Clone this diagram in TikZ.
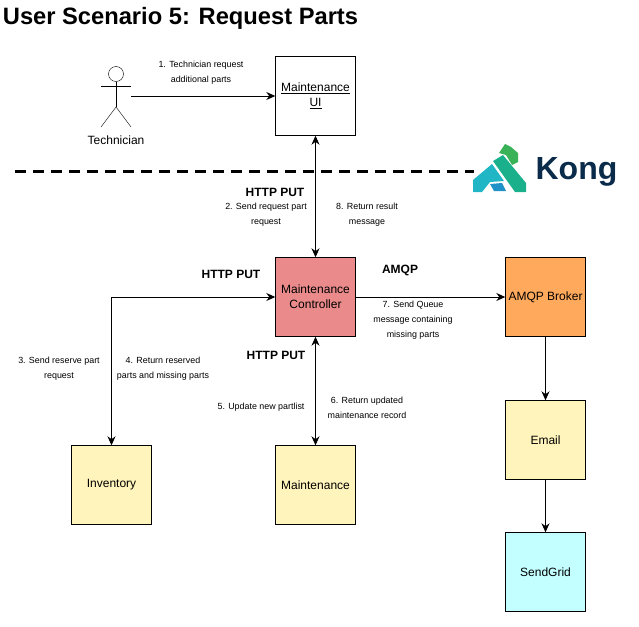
\documentclass[tikz,border=0pt]{standalone}
\usepackage{fontspec}
\setmainfont{Liberation Sans}
\usetikzlibrary{arrows.meta}

\begin{document}
\begin{tikzpicture}
[x=1pt,y=-1pt,
  boxDecorate/.style={shape=rectangle,draw,minimum width=80pt,minimum height=79pt,inner sep=1pt,align=center,font=\fontsize{12}{15}\selectfont},%
  lineDecorate/.style={-{Stealth[length=9pt,width=8pt]},line width=1pt},%
  bothDecorate/.style={{Stealth[length=9pt,width=8pt]}-{Stealth[length=9pt,width=8pt]},line width=1pt},%
  noteDecorate/.style={align=center,font=\fontsize{8.9}{15}\selectfont},%
  protoDecorate/.style={font=\fontsize{12}{14}\selectfont\bfseries}]
\useasboundingbox (0,0) rectangle (639,626);
\definecolor{redBox}{HTML}{EA8A8A}
\definecolor{orangeBox}{HTML}{FFA95C}
\definecolor{yellowBox}{HTML}{FFF4BB}
\definecolor{cyanBox}{HTML}{C4FFFF}
\definecolor{kongNavy}{HTML}{0B2B4A}
%% title
\node (title) at (180.5,18) {\fontsize{23.7}{28}\selectfont\bfseries User Scenario 5: Request Parts};
%% nodes or vertices
\foreach \nodename/\x/\y/\fillcolor/\nodetext in {
  ui/315.5/96/white/{\underline{Maintenance}\\\underline{UI}},
  controller/315.5/297/redBox/{Maintenance\\Controller},
  broker/545.5/297/orangeBox/{AMQP Broker},
  email/545.5/440/yellowBox/{Email},
  sendgrid/545.5/572/cyanBox/{SendGrid},
  inventory/111.5/485/yellowBox/{Inventory},
  maintenance/315.5/485/yellowBox/{Maintenance}}
{
  \node (\nodename) at (\x,\y) [boxDecorate,fill=\fillcolor] {\nodetext};
}
%% actor
\node (head) at (116,74) [shape=circle,draw,minimum size=15pt,inner sep=0pt] {};
\coordinate (hip) at (116,107);
\coordinate (actor) at (131,96);
\draw (head) -- (hip);
\draw (101,86) -- (131,86);
\draw (101,127) -- (hip) -- (131,127);
\node (technician) at (116,140) {\fontsize{12}{14}\selectfont Technician};
%% kong logo
\fill[fill={rgb,255:red,58;green,178;blue,88}] (499,153) -- (505,144) -- (511,147) -- (518,153) -- (518,162) -- (512,165) -- (506,155) -- cycle;
\fill[fill={rgb,255:red,27;green,176;blue,140}] (493,161) -- (503,155) -- (526,183) -- (526,192) -- (515,192) -- cycle;
\fill[fill={rgb,255:red,33;green,182;blue,198}] (473,180) -- (492,164) -- (504,181) -- (490,182) -- (482,192) -- (473,192) -- cycle;
\fill[fill={rgb,255:red,32;green,146;blue,200}] (490,184) -- (502,183) -- (506,191) -- (494,191) -- cycle;
\node (kong) at (576.5,172) [text=kongNavy] {\fontsize{32}{34}\selectfont\bfseries Kong};
%% edges or lines
\coordinate (dashStart) at (15,171);
\coordinate (dashEnd) at (474,171);
\draw[line width=3pt,dash pattern=on 11pt off 7pt] (dashStart) -- (dashEnd);
\draw[lineDecorate] (actor) -- (ui);
\foreach \startnode/\endnode in {ui/controller, controller/maintenance}
{
  \draw[bothDecorate] (\startnode) -- (\endnode);
}
\draw[bothDecorate] (controller) -| (inventory);
\foreach \startnode/\endnode in {controller/broker, broker/email, email/sendgrid}
{
  \draw[lineDecorate] (\startnode) -- (\endnode);
}
%% labels
\foreach \notename/\x/\y/\notetext in {
  noteone/201/73/{1. Technician request\\additional parts},
  notetwo/266/214.5/{2. Send request part\\request},
  noteeight/367/214.5/{8. Return result\\message},
  notethree/59/369/{3. Send reserve part\\request},
  notefour/163/369/{4. Return reserved\\parts and missing parts},
  notefive/261/407/{5. Update new partlist},
  notesix/367/408/{6. Return updated\\maintenance record},
  noteseven/413/320/{7. Send Queue\\message containing\\missing parts}}
{
  \node (\notename) at (\x,\y) [noteDecorate] {\notetext};
}
\foreach \protoname/\x/\y/\prototext in {
  protoui/275/192/HTTP PUT,
  protoinv/231/274/HTTP PUT,
  protomaint/276/355/HTTP PUT,
  protoamqp/400/270/AMQP}
{
  \node (\protoname) at (\x,\y) [protoDecorate] {\prototext};
}
\end{tikzpicture}
\end{document}
